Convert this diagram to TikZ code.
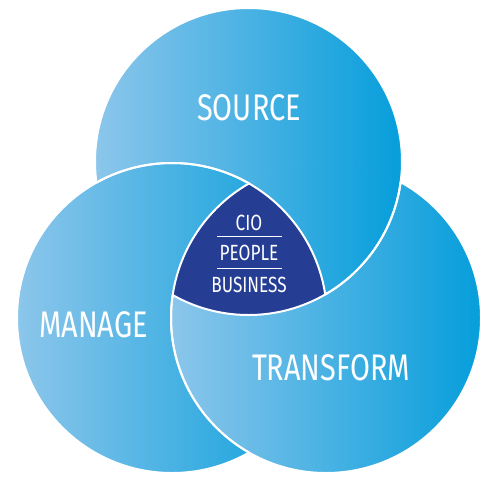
\documentclass[tikz,border=0pt]{standalone}
\usepackage{fontspec}
\newfontfamily\cond[FakeStretch=0.78]{Fira Sans}
\definecolor{lightb}{HTML}{8CC6EB}
\definecolor{darkb}{HTML}{069EDB}
\definecolor{navy}{HTML}{253E94}
\tikzset{
  circfill/.style={left color=lightb, right color=darkb},
  rim/.style={draw=white, line width=2pt},
  big/.style={text=white, font=\cond\fontsize{37}{40}\selectfont, inner sep=0pt},
  small/.style={text=white, font=\cond\fontsize{22}{24}\selectfont, inner sep=0pt},
  sep/.style={draw=white, line width=0.9pt}
}
\begin{document}
\begin{tikzpicture}[x=1pt,y=-1pt]
\useasboundingbox (0,0) rectangle (487,477);
\fill[white] (0,0) rectangle (487,477);
\coordinate (T) at (248.5,161.5);
\coordinate (L) at (172,318);
\coordinate (R) at (326,318);
\def\rT{153.5pt}
\def\rL{155pt}
\def\rR{155pt}
% fills
\shade[circfill] (T) circle[radius=\rT];
\shade[circfill] (L) circle[radius=\rL];
\shade[circfill] (R) circle[radius=\rR];
\begin{scope}
  \clip (R) circle[radius=\rR];
  \shade[circfill] (T) circle[radius=\rT];
\end{scope}
\begin{scope}
  \clip (T) circle[radius=\rT];
  \clip (L) circle[radius=\rL];
  \fill[navy] (R) circle[radius=\rR];
\end{scope}
% borders: top
\begin{scope}[even odd rule]
  \clip (-10,-10) rectangle (500,500) (L) circle[radius=\rL];
  \draw[rim] (T) circle[radius=\rT];
\end{scope}
\begin{scope}
  \clip (R) circle[radius=\rR];
  \draw[rim] (T) circle[radius=\rT];
\end{scope}
% borders: left
\begin{scope}[even odd rule]
  \clip (-10,-10) rectangle (500,500) (R) circle[radius=\rR];
  \draw[rim] (L) circle[radius=\rL];
\end{scope}
\begin{scope}
  \clip (T) circle[radius=\rT];
  \draw[rim] (L) circle[radius=\rL];
\end{scope}
% borders: right
\begin{scope}[even odd rule]
  \clip (-10,-10) rectangle (500,500) (T) circle[radius=\rT];
  \draw[rim] (R) circle[radius=\rR];
\end{scope}
\begin{scope}
  \clip (L) circle[radius=\rL];
  \draw[rim] (R) circle[radius=\rR];
\end{scope}
% labels
\node[big] (source) at (249,108) {SOURCE};
\node[big] (manage) at (93.5,324.5) {MANAGE};
\node[big] (transform) at (331,368) {TRANSFORM};
\node[small] (cio) at (249,222.5) {CIO};
\node[small] (people) at (249,253) {PEOPLE};
\node[small] (business) at (249,284.5) {BUSINESS};
\coordinate (s1a) at (217,236);
\coordinate (s1b) at (282,236);
\coordinate (s2a) at (217,268);
\coordinate (s2b) at (282,268);
\draw[sep] (s1a) -- (s1b);
\draw[sep] (s2a) -- (s2b);
\end{tikzpicture}
\end{document}
